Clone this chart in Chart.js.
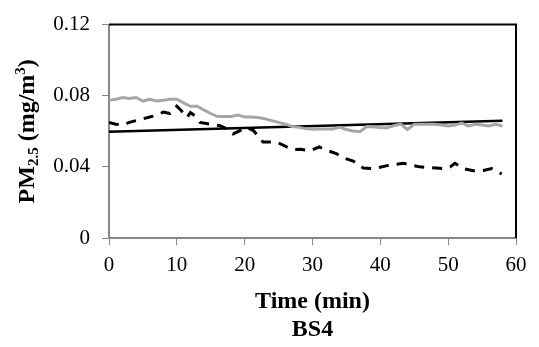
<!DOCTYPE html>
<html>
<head>
<meta charset="utf-8">
<script src="https://cdn.jsdelivr.net/npm/chart.js@4/dist/chart.umd.min.js"></script>
<style>
    html, body { margin: 0; padding: 0; background: #fff; }
    #wrap { width: 539px; height: 347px; position: relative; }
</style>
</head>
<body>
<div id="wrap"><canvas id="chart"></canvas></div>
<script>
// measured series (time in min, PM2.5 in mg/m3)
const grayTime = [0,1,2,3,4,5,6,7,8,9,10,11,12,13,14,15,16,17,18,19,20,21,22,23,24,25,26,27,28,29,30,31,32,33,34,35,36,37,38,39,40,41,42,43,44,45,46,47,48,49,50,51,52,53,54,55,56,57,58];
const grayVals = [0.0775,0.078,0.079,0.0785,0.079,0.077,0.078,0.077,0.0775,0.078,0.078,0.076,0.0741,0.0741,0.072,0.070,0.0683,0.0683,0.0683,0.0692,0.068,0.068,0.0677,0.067,0.066,0.065,0.064,0.0627,0.0622,0.0615,0.0612,0.0613,0.0613,0.0613,0.0622,0.061,0.0602,0.0598,0.0627,0.0625,0.062,0.062,0.0632,0.064,0.061,0.064,0.064,0.064,0.064,0.0635,0.063,0.0635,0.0646,0.063,0.064,0.0635,0.063,0.064,0.063];

const dashTime = [0,1,2,3,4,5,6,7,8,9,10,10.7,11.5,12,12.7,13.4,15,16.4,17.4,18.3,19.3,20.3,21.3,22.7,24.7,26.2,27.2,28.2,29.6,31,32,33.5,34.5,36,37.5,39,41,43.4,45.8,48.3,49.3,50.3,51,52.2,53.7,55.2,56.4,57.9];
const dashVals = [0.065,0.064,0.0635,0.065,0.066,0.067,0.068,0.069,0.0708,0.070,0.0741,0.0714,0.0677,0.0705,0.0686,0.065,0.064,0.0631,0.0613,0.0585,0.0604,0.0622,0.0604,0.054,0.054,0.0512,0.0497,0.0499,0.049,0.0512,0.0494,0.0475,0.0451,0.0433,0.0393,0.039,0.0407,0.042,0.040,0.0393,0.039,0.040,0.042,0.039,0.0378,0.038,0.039,0.036];

const trendTime = [0, 58];
const trendVals = [0.0598, 0.066];

const xTicks = [0, 10, 20, 30, 40, 50, 60];
const yTicks = [0, 0.04, 0.08, 0.12];

const xTitle = 'Time (min)';
const subTitle = 'BS4';

const SERIF = '"Liberation Serif", "Times New Roman", serif';

function toPoints(xs, ys) {
    return xs.map((x, i) => ({ x: x, y: ys[i] }));
}

// frame on top/right plus the custom axis titles
const decorPlugin = {
    id: 'decor',
    afterDraw(chart) {
        const ctx = chart.ctx;
        const a = chart.chartArea;
        ctx.save();
        ctx.strokeStyle = '#000';
        ctx.lineWidth = 2;
        ctx.beginPath();
        ctx.moveTo(a.left, a.top);
        ctx.lineTo(a.right, a.top);
        ctx.lineTo(a.right, a.bottom);
        ctx.stroke();

        ctx.fillStyle = '#000';
        ctx.textAlign = 'center';
        ctx.textBaseline = 'middle';
        ctx.font = 'bold 24px ' + SERIF;
        const cx = (a.left + a.right) / 2;
        ctx.fillText(xTitle, cx, 302);
        ctx.fillText(subTitle, cx, 330);

        // rotated y title with sub/superscripts
        const parts = [
            { t: 'PM', size: 24, dy: 0 },
            { t: '2.5', size: 15, dy: 6 },
            { t: ' (mg/m', size: 24, dy: 0 },
            { t: '3', size: 15, dy: -7 },
            { t: ')', size: 24, dy: 0 }
        ];
        let total = 0;
        parts.forEach(p => {
            ctx.font = 'bold ' + p.size + 'px ' + SERIF;
            p.w = ctx.measureText(p.t).width;
            total += p.w;
        });
        ctx.translate(28, (a.top + a.bottom) / 2);
        ctx.rotate(-Math.PI / 2);
        ctx.textAlign = 'left';
        ctx.textBaseline = 'middle';
        let x = -total / 2;
        parts.forEach(p => {
            ctx.font = 'bold ' + p.size + 'px ' + SERIF;
            ctx.fillText(p.t, x, p.dy);
            x += p.w;
        });
        ctx.restore();
    }
};

new Chart(document.getElementById('chart'), {
    type: 'line',
    data: {
        datasets: [
            {
                data: toPoints(grayTime, grayVals),
                borderColor: '#a6a6a6',
                borderWidth: 3,
                pointRadius: 0,
                tension: 0
            },
            {
                data: toPoints(dashTime, dashVals),
                borderColor: '#000',
                borderWidth: 3,
                borderDash: [10, 8],
                pointRadius: 0,
                tension: 0
            },
            {
                data: toPoints(trendTime, trendVals),
                borderColor: '#000',
                borderWidth: 2.5,
                pointRadius: 0,
                tension: 0
            }
        ]
    },
    options: {
        responsive: true,
        maintainAspectRatio: false,
        animation: false,
        layout: { padding: { top: 20, right: 23, left: 0, bottom: 0 } },
        plugins: {
            legend: { display: false },
            tooltip: { enabled: false }
        },
        scales: {
            x: {
                type: 'linear',
                min: 0,
                max: 60,
                afterFit: s => { s.height = 109; },
                afterBuildTicks: s => { s.ticks = xTicks.map(v => ({ value: v })); },
                border: { color: '#888', width: 2 },
                grid: { drawOnChartArea: false, drawTicks: true, tickLength: 7, color: '#888', lineWidth: 1 },
                ticks: { color: '#000', padding: 8, maxRotation: 0, font: { family: SERIF, size: 21 } }
            },
            y: {
                min: 0,
                max: 0.12,
                afterFit: s => { s.width = 109; },
                afterBuildTicks: s => { s.ticks = yTicks.map(v => ({ value: v })); },
                border: { color: '#888', width: 2 },
                grid: { drawOnChartArea: false, drawTicks: true, tickLength: 7, color: '#888', lineWidth: 1 },
                ticks: {
                    color: '#000',
                    padding: 12,
                    font: { family: SERIF, size: 21 },
                    callback: v => String(Number(v.toFixed(2)))
                }
            }
        }
    },
    plugins: [decorPlugin]
});
</script>
</body>
</html>
